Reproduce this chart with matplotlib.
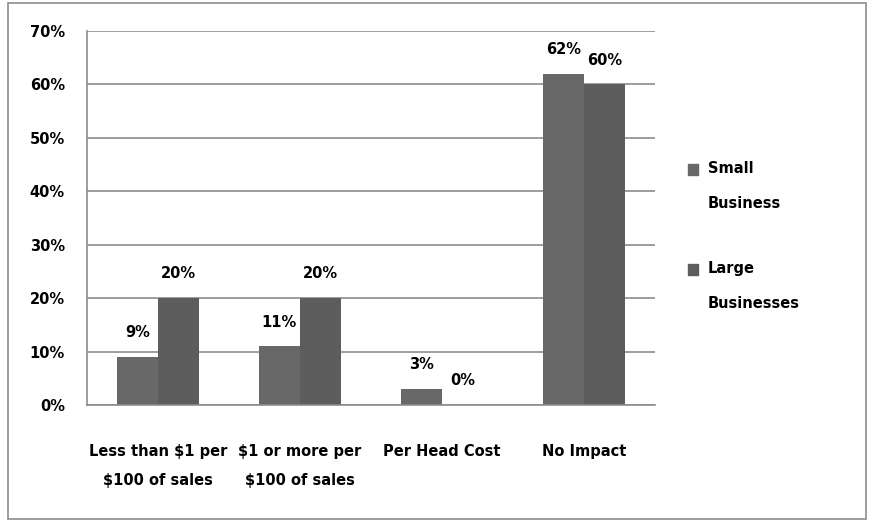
import matplotlib
matplotlib.use("Agg")
import matplotlib.pyplot as plt
from matplotlib.patches import Rectangle
import numpy as np

plt.rcParams["font.family"] = ["Liberation Sans Narrow", "DejaVu Sans"]
plt.rcParams["font.weight"] = "bold"
plt.rcParams["font.size"] = 10.5

categories = ["Less than $1 per\n$100 of sales", "$1 or more per\n$100 of sales", "Per Head Cost", "No Impact"]
small_business = [9, 11, 3, 62]
large_businesses = [20, 20, 0, 60]
series_names = ["Small\nBusiness", "Large\nBusinesses"]
colours = ["#686868", "#5d5d5d"]

fig = plt.figure(figsize=(8.7, 5.27), dpi=100)
ax = fig.add_axes([87 / 870, 1 - 405 / 527, (655 - 87) / 870, (405 - 31) / 527])

x = np.arange(len(categories))
width = 0.29
for values, offset, colour in [(small_business, -width / 2, colours[0]), (large_businesses, width / 2, colours[1])]:
    bars = ax.bar(x + offset, values, width, color=colour, zorder=2)
    for rect, v in zip(bars, values):
        ax.annotate(f"{v}%", (rect.get_x() + rect.get_width() / 2, v),
                    xytext=(0, 12), textcoords="offset points",
                    ha="center", va="bottom", fontsize=10.5, fontweight="bold")

ax.set_xlim(-0.5, len(categories) - 0.5)
ax.set_ylim(0, 70)
ax.set_yticks(range(0, 71, 10))
ax.set_yticklabels([f"{t}%" for t in range(0, 71, 10)])
ax.set_xticks(x)
ax.set_xticklabels(categories, linespacing=2.2)
ax.yaxis.grid(True, color="#8c8c8c", linewidth=1.2, zorder=0)
ax.set_axisbelow(True)
for side in ["top", "right"]:
    ax.spines[side].set_visible(False)
for side in ["left", "bottom"]:
    ax.spines[side].set_color("#8c8c8c")
    ax.spines[side].set_linewidth(1.2)
ax.tick_params(axis="y", length=0, pad=16)
ax.tick_params(axis="x", length=0, pad=28)

# legend drawn by hand so the swatch sits on the first text line
for i, (name, colour) in enumerate(zip(series_names, colours)):
    y_top = 1 - (164 + 100 * i) / 527
    fig.patches.append(Rectangle((688 / 870, y_top - 11 / 527), 10 / 870, 11 / 527,
                                 transform=fig.transFigure, color=colour))
    fig.text(708 / 870, y_top + 3 / 527, name, ha="left", va="top",
             linespacing=2.7, fontsize=10.5, fontweight="bold")

# chart border
fig.patches.append(Rectangle((8 / 870, 8 / 527), 858 / 870, 516 / 527, transform=fig.transFigure,
                             fill=False, edgecolor="#8c8c8c", linewidth=1.2))

fig.savefig("out.png", dpi=100)
